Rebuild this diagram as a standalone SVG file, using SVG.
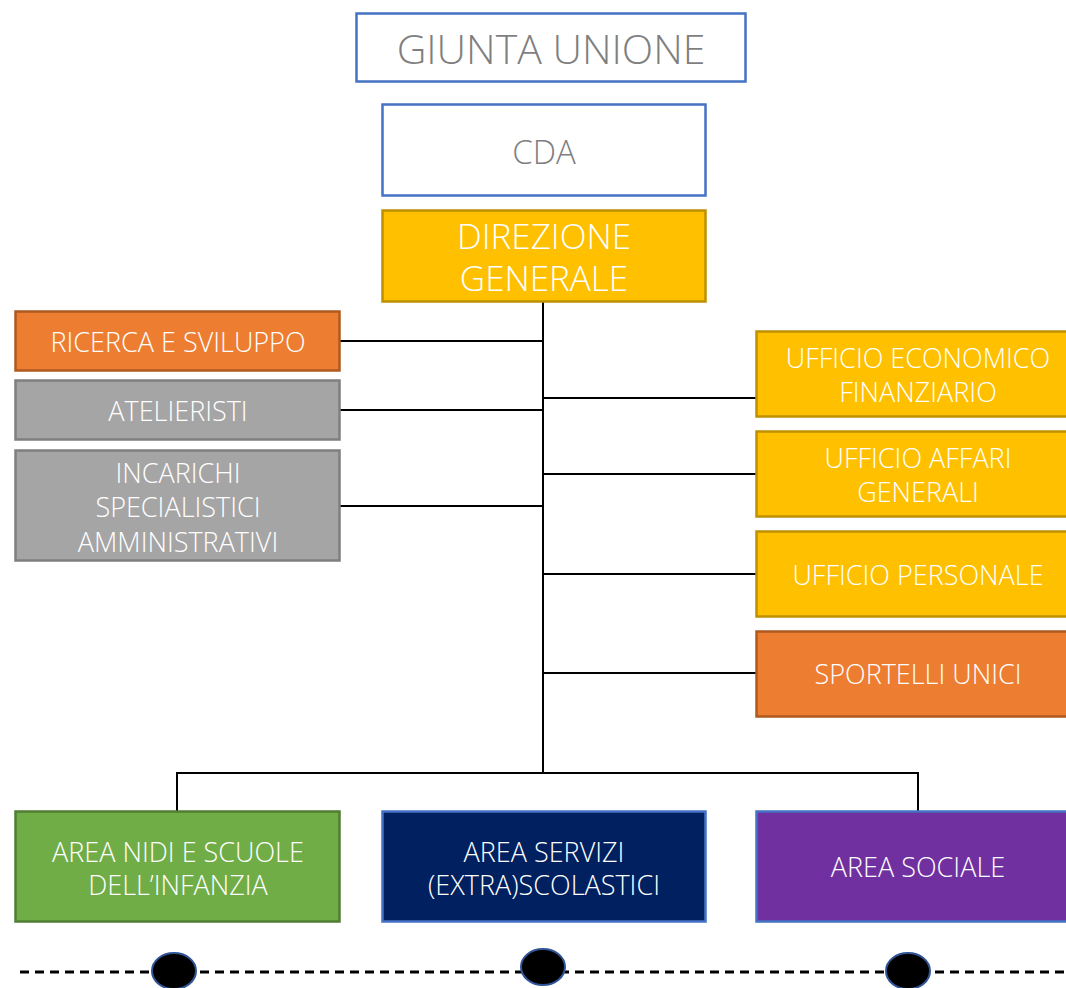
<svg xmlns="http://www.w3.org/2000/svg" width="1066" height="988" viewBox="0 0 1066 988">
<style>
text{font-family:"Open Sans","Noto Sans","Liberation Sans",sans-serif;font-weight:300;text-anchor:middle;}
.w{fill:#ffffff;font-size:27px;}
.g{fill:#7f7f7f;}
.box{stroke-width:2.5;}
.conn{stroke:#000;stroke-width:2;fill:none;}
</style>
<rect width="1066" height="988" fill="#ffffff"/>
<g id="connectors">
<line x1="543" y1="197" x2="543" y2="210" stroke="#ffffff" stroke-width="1"/>
<path class="conn" d="M543 302V773M340 341H543M340 410H543M340 506H543M543 398H756M543 474H756M543 574H756M543 673H756M177 811V773H918V811"/>
<line x1="20" y1="972" x2="1066" y2="972" stroke="#000" stroke-width="3" stroke-dasharray="9 6"/>
</g>
<g id="giunta">
<rect class="box" x="356.5" y="13.5" width="389" height="68" fill="#fff" stroke="#4472c4"/>
<text class="g" x="551" y="64" font-size="41">GIUNTA UNIONE</text>
</g>
<g id="cda">
<rect class="box" x="382.5" y="104.5" width="323" height="91" fill="#fff" stroke="#4472c4"/>
<text class="g" x="544" y="164" font-size="33">CDA</text>
</g>
<g id="direzione">
<rect class="box" x="382.5" y="210.5" width="323" height="91" fill="#ffc000" stroke="#bf9000"/>
<text class="w" x="544" y="249" style="font-size:35px">DIREZIONE</text>
<text class="w" x="544" y="291" style="font-size:35px">GENERALE</text>
</g>
<g id="ricerca">
<rect class="box" x="15.5" y="311.5" width="324" height="59" fill="#ed7d31" stroke="#ae5a21"/>
<text class="w" x="178" y="352">RICERCA E SVILUPPO</text>
</g>
<g id="atelieristi">
<rect class="box" x="15.5" y="380.5" width="324" height="59" fill="#a5a5a5" stroke="#7f7f7f"/>
<text class="w" x="178" y="421">ATELIERISTI</text>
</g>
<g id="incarichi">
<rect class="box" x="15.5" y="450.5" width="324" height="110" fill="#a5a5a5" stroke="#7f7f7f"/>
<text class="w" x="178" y="483">INCARICHI</text>
<text class="w" x="178" y="517">SPECIALISTICI</text>
<text class="w" x="178" y="552">AMMINISTRATIVI</text>
</g>
<g id="economico">
<rect class="box" x="756.5" y="331.5" width="312" height="85" fill="#ffc000" stroke="#bf9000"/>
<text class="w" x="918" y="368">UFFICIO ECONOMICO</text>
<text class="w" x="918" y="402">FINANZIARIO</text>
</g>
<g id="affari">
<rect class="box" x="756.5" y="431.5" width="312" height="85" fill="#ffc000" stroke="#bf9000"/>
<text class="w" x="918" y="468">UFFICIO AFFARI</text>
<text class="w" x="918" y="502">GENERALI</text>
</g>
<g id="personale">
<rect class="box" x="756.5" y="531.5" width="312" height="85" fill="#ffc000" stroke="#bf9000"/>
<text class="w" x="918" y="585">UFFICIO PERSONALE</text>
</g>
<g id="sportelli">
<rect class="box" x="756.5" y="631.5" width="312" height="85" fill="#ed7d31" stroke="#ae5a21"/>
<text class="w" x="918" y="684">SPORTELLI UNICI</text>
</g>
<g id="nidi">
<rect class="box" x="15.5" y="811.5" width="324" height="110" fill="#70ad47" stroke="#507e32"/>
<text class="w" x="178" y="862">AREA NIDI E SCUOLE</text>
<text class="w" x="178" y="895">DELL’INFANZIA</text>
</g>
<g id="servizi">
<rect class="box" x="382.5" y="811.5" width="323" height="110" fill="#002060" stroke="#4472c4"/>
<text class="w" x="544" y="862">AREA SERVIZI</text>
<text class="w" x="544" y="895">(EXTRA)SCOLASTICI</text>
</g>
<g id="sociale">
<rect class="box" x="756.5" y="811.5" width="312" height="110" fill="#7030a0" stroke="#4472c4"/>
<text class="w" x="918" y="877">AREA SOCIALE</text>
</g>
<g id="markers" fill="#000" stroke="#2f5597" stroke-width="2">
<ellipse cx="174" cy="971" rx="22" ry="18"/>
<ellipse cx="543" cy="967" rx="22" ry="18"/>
<ellipse cx="908" cy="971" rx="22" ry="18"/>
</g>
</svg>
